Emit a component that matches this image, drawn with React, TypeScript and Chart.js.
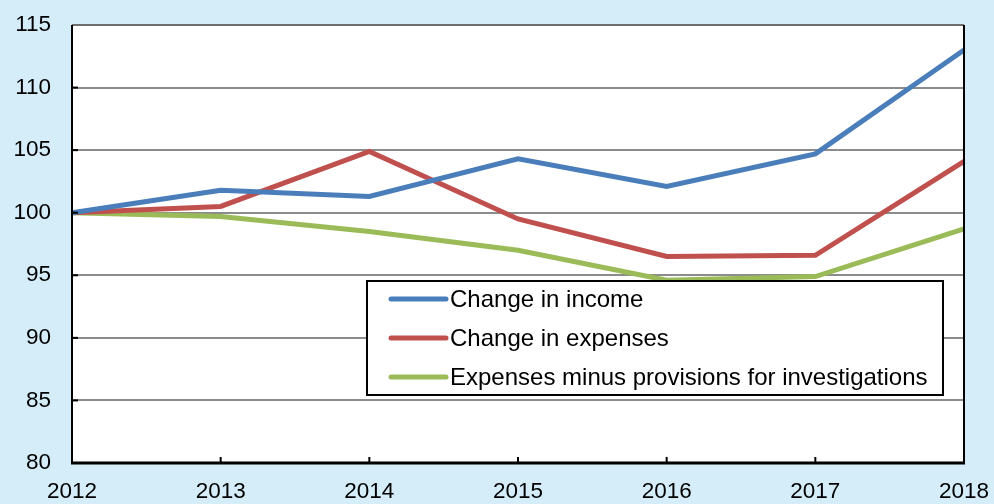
import React, { useEffect, useRef } from "react";
import { Chart, registerables } from "chart.js";

Chart.register(...registerables);

const years = ["2012", "2013", "2014", "2015", "2016", "2017", "2018"];
const incomeChange = [100, 101.8, 101.3, 104.3, 102.1, 104.7, 113.0];
const expensesChange = [100, 100.5, 104.9, 99.5, 96.5, 96.6, 104.1];
const expensesMinusProvisions = [100, 99.7, 98.5, 97.0, 94.6, 94.9, 98.7];
const seriesLabels = [
  "Change in income",
  "Change in expenses",
  "Expenses minus provisions for investigations",
];
const seriesColors = ["#4a7ebb", "#c0504d", "#9bbb59"];

const FONT = "'Liberation Sans', Arial, sans-serif";

const framePlugin = {
  id: "frame",
  afterDatasetsDraw(chart: any) {
    const { ctx, chartArea } = chart;
    const { left, right, top, bottom } = chartArea;
    ctx.save();
    ctx.strokeStyle = "#000";
    ctx.lineWidth = 2;
    const y = chart.scales.y;
    y.ticks.forEach((t: any) => {
      const py = y.getPixelForValue(t.value);
      ctx.beginPath();
      ctx.moveTo(left, py);
      ctx.lineTo(left + 6, py);
      ctx.stroke();
    });
    const x = chart.scales.x;
    years.forEach((_, i) => {
      const px = x.getPixelForValue(i);
      ctx.beginPath();
      ctx.moveTo(px, bottom);
      ctx.lineTo(px, bottom - 6);
      ctx.stroke();
    });
    ctx.strokeStyle = "#6e6e6e";
    ctx.lineWidth = 2;
    ctx.beginPath();
    ctx.moveTo(left, top);
    ctx.lineTo(right, top);
    ctx.stroke();
    ctx.strokeStyle = "#000";
    ctx.lineWidth = 2;
    ctx.beginPath();
    ctx.moveTo(left, top);
    ctx.lineTo(left, bottom);
    ctx.moveTo(right, top);
    ctx.lineTo(right, bottom);
    ctx.stroke();
    ctx.lineWidth = 3;
    ctx.beginPath();
    ctx.moveTo(left - 1, bottom);
    ctx.lineTo(right + 1, bottom);
    ctx.stroke();

    // legend
    const bx = left + 295;
    const by = top + 256;
    const bw = 576;
    const bh = 114;
    ctx.fillStyle = "#fff";
    ctx.fillRect(bx, by, bw, bh);
    ctx.strokeStyle = "#000";
    ctx.lineWidth = 2;
    ctx.strokeRect(bx, by, bw, bh);
    ctx.font = `24px ${FONT}`;
    ctx.textBaseline = "middle";
    ctx.textAlign = "left";
    seriesLabels.forEach((lab, i) => {
      const ry = by + 18 + i * 39;
      ctx.strokeStyle = seriesColors[i];
      ctx.lineWidth = 5;
      ctx.lineCap = "round";
      ctx.beginPath();
      ctx.moveTo(bx + 24, ry);
      ctx.lineTo(bx + 79, ry);
      ctx.stroke();
      ctx.fillStyle = "#000";
      ctx.fillText(lab, bx + 83, ry + 1);
    });
    ctx.restore();
  },
};

export default function App() {
  const ref = useRef<HTMLCanvasElement>(null);
  useEffect(() => {
    document.body.style.margin = "0";
    document.body.style.background = "#d4edf9";
    const canvas = ref.current!;
    const chart = new Chart(canvas, {
      type: "line",
      data: {
        labels: years,
        datasets: [incomeChange, expensesChange, expensesMinusProvisions].map(
          (d, i) => ({
            label: seriesLabels[i],
            data: d,
            borderColor: seriesColors[i],
            backgroundColor: seriesColors[i],
            borderWidth: 5,
            pointRadius: 0,
            tension: 0,
            fill: false,
          })
        ),
      },
      options: {
        animation: false,
        responsive: false,
        maintainAspectRatio: false,
        layout: { padding: { top: 25, right: 30, left: 0, bottom: 0 } },
        plugins: {
          legend: { display: false },
          tooltip: { enabled: false },
          title: { display: false },
        },
        scales: {
          x: {
            offset: false,
            grid: { display: false, drawTicks: false },
            border: { display: false },
            ticks: {
              color: "#000",
              font: { family: FONT, size: 22.5 },
              padding: 15,
              maxRotation: 0,
              autoSkip: false,
            },
            afterFit(scale: any) {
              scale.height = 41;
              scale.paddingLeft = 0;
              scale.paddingRight = 0;
            },
          },
          y: {
            min: 80,
            max: 115,
            grid: { color: "#8c8c8c", lineWidth: 2, drawTicks: false },
            border: { display: false },
            ticks: {
              stepSize: 5,
              color: "#000",
              font: { family: FONT, size: 22.5 },
              padding: 21,
            },
            afterFit(scale: any) {
              scale.width = 72;
              scale.paddingTop = 0;
              scale.paddingBottom = 0;
            },
          },
        },
      },
      plugins: [
        {
          id: "bg",
          beforeDraw(c: any) {
            const { ctx, chartArea, width, height } = c;
            ctx.save();
            ctx.fillStyle = "#d4edf9";
            ctx.fillRect(0, 0, width, height);
            ctx.fillStyle = "#fff";
            ctx.fillRect(
              chartArea.left,
              chartArea.top,
              chartArea.right - chartArea.left,
              chartArea.bottom - chartArea.top
            );
            ctx.restore();
          },
        },
        framePlugin,
      ],
    });
    return () => chart.destroy();
  }, []);
  return (
    <canvas
      ref={ref}
      width={994}
      height={504}
      style={{ display: "block", width: 994, height: 504 }}
    />
  );
}
